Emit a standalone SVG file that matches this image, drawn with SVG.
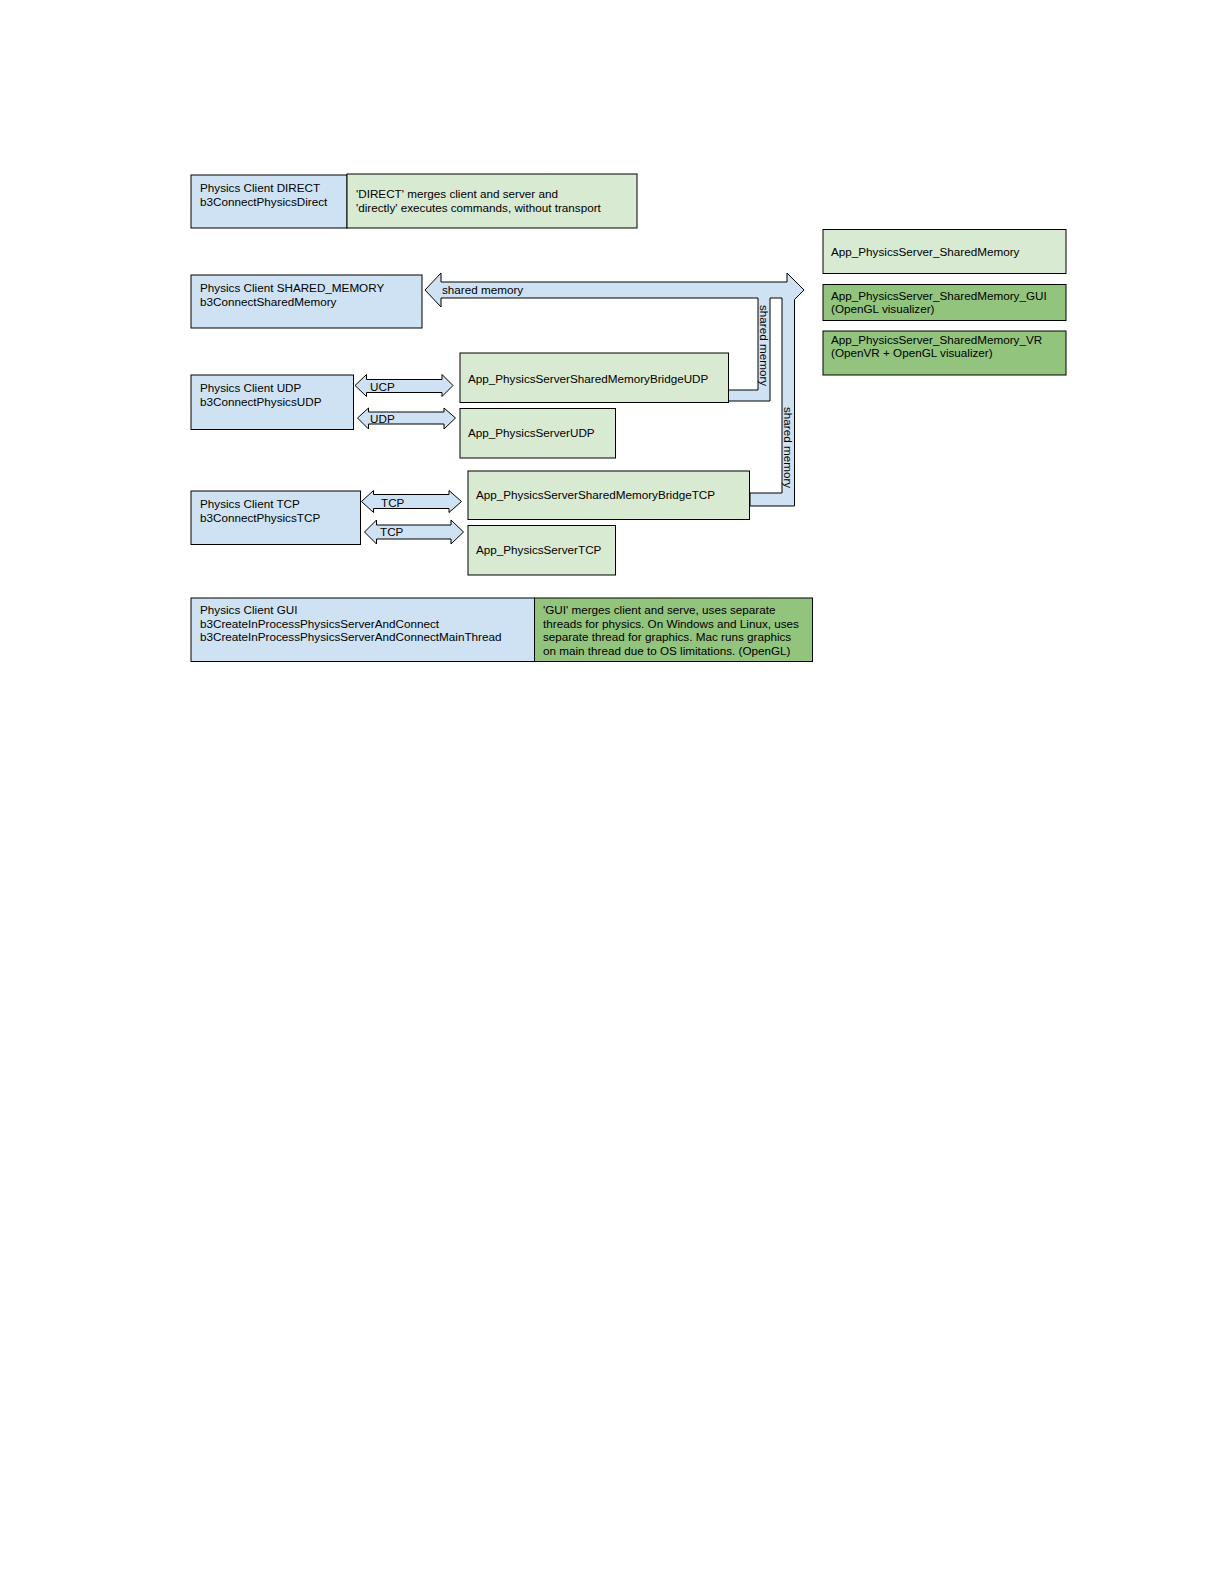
<svg xmlns="http://www.w3.org/2000/svg" width="1224" height="1584" viewBox="0 0 1224 1584">
<style>
text{font-family:"Liberation Sans",Arial,sans-serif;font-size:11.7px;fill:#000}
.blue{fill:#cfe2f3;stroke:#000;stroke-width:1}
.lg{fill:#d9ead3;stroke:#000;stroke-width:1}
.dg{fill:#93c47d;stroke:#000;stroke-width:1}
.arr{fill:#cfe2f3;stroke:#000;stroke-width:1;stroke-linejoin:miter}
.barfill{fill:#cfe2f3;stroke:none}
.barline{fill:none;stroke:#000;stroke-width:1}
</style>
<rect width="1224" height="1584" fill="#fff"/>
<g id="connectors">
<polygon class="arr" points="425,290 441,273 441,282 787,282 787,273 804,290 787,307 787,298 441,298 441,307"/>
<text x="442" y="294">shared memory</text>
<polygon class="barfill" points="758,297 770,297 770,401 727,401 727,390 758,390"/>
<polyline class="barline" points="758,298 758,390 727,390 727,401 770,401 770,298"/>
<text transform="translate(760,305) rotate(90)">shared memory</text>
<polygon class="barfill" points="782,297 794.5,297 794.5,506 750,506 750,493 782,493"/>
<polyline class="barline" points="782,298 782,493 750,493 750,506 794.5,506 794.5,299.5"/>
<text transform="translate(784,407) rotate(90)">shared memory</text>
<polygon class="arr" points="355,385.5 366.5,374.5 366.5,379.5 442,379.5 442,374.5 453,385.5 442,396.5 442,392.5 366.5,392.5 366.5,396.5"/>
<text x="370" y="391">UCP</text>
<polygon class="arr" points="357.5,418 368.5,408 368.5,412 444,412 444,408 455.5,418 444,429 444,424 368.5,424 368.5,429"/>
<text x="370" y="423">UDP</text>
<polygon class="arr" points="361.5,501.5 373.5,490.5 373.5,494.5 449,494.5 449,490.5 461.5,501.5 449,512.5 449,508.5 373.5,508.5 373.5,512.5"/>
<text x="381" y="507">TCP</text>
<polygon class="arr" points="364.5,532 376.5,520 376.5,525 451,525 451,520 463.5,532 451,544 451,539 376.5,539 376.5,544"/>
<text x="380" y="536">TCP</text>
</g>
<g id="client-direct">
<rect class="blue" x="191" y="175" width="156" height="53"/>
<text x="200" y="192">Physics Client DIRECT</text>
<text x="200" y="206">b3ConnectPhysicsDirect</text>
</g>
<g id="direct-desc">
<rect class="lg" x="347" y="174" width="290" height="54"/>
<text x="356" y="198">'DIRECT' merges client and server and</text>
<text x="356" y="212">'directly' executes commands, without transport</text>
</g>
<g id="server-sharedmemory">
<rect class="lg" x="823" y="229.5" width="243" height="44"/>
<text x="831" y="256">App_PhysicsServer_SharedMemory</text>
</g>
<g id="server-sharedmemory-gui">
<rect class="dg" x="823" y="284.5" width="243" height="36"/>
<text x="831" y="300">App_PhysicsServer_SharedMemory_GUI</text>
<text x="831" y="313">(OpenGL visualizer)</text>
</g>
<g id="server-sharedmemory-vr">
<rect class="dg" x="823" y="331" width="243" height="44"/>
<text x="831" y="344">App_PhysicsServer_SharedMemory_VR</text>
<text x="831" y="357">(OpenVR + OpenGL visualizer)</text>
</g>
<g id="client-shared-memory">
<rect class="blue" x="191" y="275" width="231" height="53"/>
<text x="200" y="292">Physics Client SHARED_MEMORY</text>
<text x="200" y="306">b3ConnectSharedMemory</text>
</g>
<g id="client-udp">
<rect class="blue" x="191" y="375" width="162.5" height="54.5"/>
<text x="200" y="392">Physics Client UDP</text>
<text x="200" y="406">b3ConnectPhysicsUDP</text>
</g>
<g id="bridge-udp">
<rect class="lg" x="460" y="353" width="268.5" height="49.5"/>
<text x="468" y="383">App_PhysicsServerSharedMemoryBridgeUDP</text>
</g>
<g id="server-udp">
<rect class="lg" x="460" y="408.5" width="155.5" height="49.5"/>
<text x="468" y="437">App_PhysicsServerUDP</text>
</g>
<g id="client-tcp">
<rect class="blue" x="191" y="491" width="169.5" height="53.5"/>
<text x="200" y="508">Physics Client TCP</text>
<text x="200" y="522">b3ConnectPhysicsTCP</text>
</g>
<g id="bridge-tcp">
<rect class="lg" x="468" y="471" width="281.5" height="48.5"/>
<text x="476" y="499">App_PhysicsServerSharedMemoryBridgeTCP</text>
</g>
<g id="server-tcp">
<rect class="lg" x="468" y="525.5" width="147.5" height="49.5"/>
<text x="476" y="554">App_PhysicsServerTCP</text>
</g>
<g id="client-gui">
<rect class="blue" x="191" y="598" width="343.5" height="63.5"/>
<text x="200" y="614">Physics Client GUI</text>
<text x="200" y="628">b3CreateInProcessPhysicsServerAndConnect</text>
<text x="200" y="641">b3CreateInProcessPhysicsServerAndConnectMainThread</text>
</g>
<g id="gui-desc">
<rect class="dg" x="534.5" y="598" width="278" height="63.5"/>
<text x="543" y="614">'GUI' merges client and serve, uses separate</text>
<text x="543" y="628">threads for physics. On Windows and Linux, uses</text>
<text x="543" y="641">separate thread for graphics. Mac runs graphics</text>
<text x="543" y="655">on main thread due to OS limitations. (OpenGL)</text>
</g>
</svg>
